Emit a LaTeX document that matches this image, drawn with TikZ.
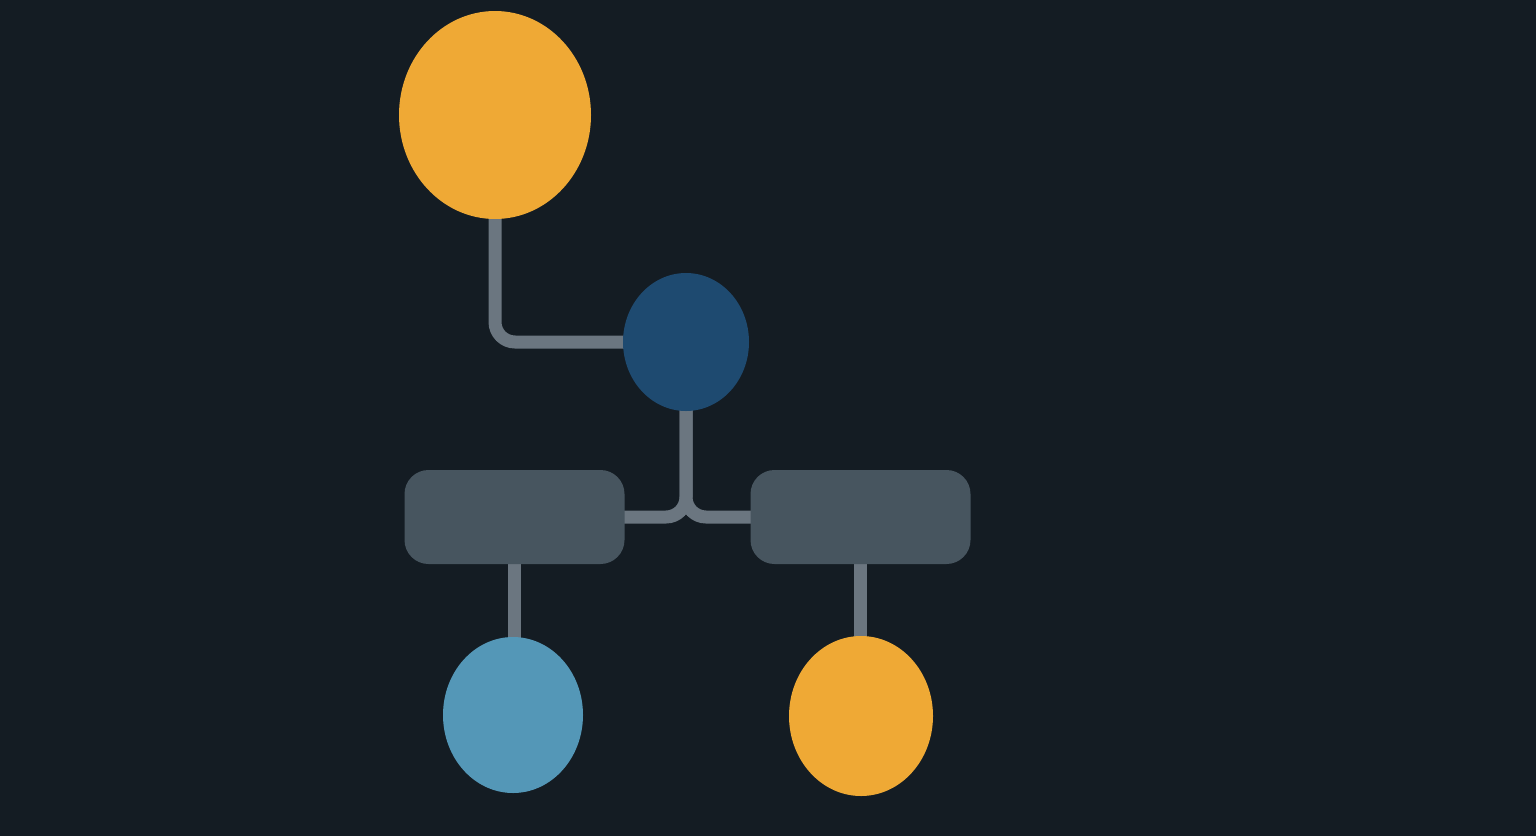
\documentclass[tikz,border=0pt]{standalone}
\usepackage{tikz}
\usetikzlibrary{shapes.geometric,backgrounds}
\definecolor{bgdark}{HTML}{141C23}
\definecolor{amber}{HTML}{EFA935}
\definecolor{navy}{HTML}{1E4A70}
\definecolor{slate}{HTML}{47555F}
\definecolor{skyblue}{HTML}{5497B7}
\definecolor{wire}{HTML}{6B7680}
\begin{document}
\begin{tikzpicture}[x=1pt, y=-1pt,
                    blob/.style={ellipse, inner sep=0pt, draw=none},
                    card/.style={rectangle, rounded corners=24pt, fill=slate, inner sep=0pt,
                                 minimum width=220pt, minimum height=94pt},
                    link/.style={draw=wire, line width=13pt, rounded corners=20pt}]

\useasboundingbox (0,0) rectangle (1536,836);

\node[blob, fill=amber, minimum width=192pt, minimum height=208pt] (root) at (495,115) {};
\node[blob, fill=navy, minimum width=126pt, minimum height=138pt] (hub) at (686,342) {};
\node[card] (left) at (514.5,517) {};
\node[card] (right) at (860.5,517) {};
\node[blob, fill=skyblue, minimum width=140pt, minimum height=156pt] (leftleaf) at (513,715) {};
\node[blob, fill=amber, minimum width=144pt, minimum height=160pt] (rightleaf) at (861,716) {};

\begin{pgfonlayer}{background}
\fill[bgdark] (0,0) rectangle (1536,836);
\path[link] (root.center) |- (hub.center);
\path[link] (hub.center) |- (left.center);
\path[link] (hub.center) |- (right.center);
\path[link] (left.center) -- (left.center |- leftleaf.center);
\path[link] (right.center) -- (right.center |- rightleaf.center);
\end{pgfonlayer}
\end{tikzpicture}
\end{document}
